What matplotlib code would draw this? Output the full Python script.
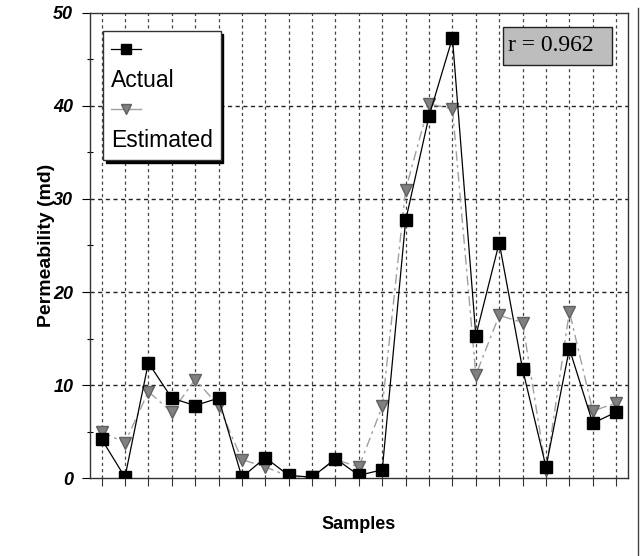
import matplotlib.pyplot as plt
from matplotlib.lines import Line2D
from matplotlib.patches import Rectangle
from matplotlib.ticker import MultipleLocator
import numpy as np

# permeability per sample (md)
samples = np.arange(23)
actual = [4.2, 0.1, 12.4, 8.6, 7.8, 8.6, 0.1, 2.2, 0.3, 0.1, 2.1, 0.3, 0.9,
          27.7, 38.9, 47.3, 15.3, 25.3, 11.7, 1.2, 13.9, 5.9, 7.1]
estimated = [5.0, 3.8, 9.3, 7.1, 10.6, 7.8, 2.0, 1.2, 0.2, 0.1, 2.0, 1.2, 7.7,
             31.0, 40.2, 39.7, 11.1, 17.5, 16.7, 0.9, 17.9, 7.2, 8.1]
y_ticks = [0, 10, 20, 30, 40, 50]
r_text = "r = 0.962"

fig = plt.figure(figsize=(6.42, 5.56), dpi=100)
ax = fig.add_axes([0.140, 0.140, 0.838, 0.837])

#grid first so lines sit on top
ax.set_axisbelow(True)
for x in samples:
    ax.axvline(x, color='#444444', lw=0.9, ls=(0, (2.5, 2.5)), zorder=0)
for y in y_ticks[1:-1]:
    ax.axhline(y, color='#222222', lw=1.0, ls=(0, (3, 2.5)), zorder=0)

ax.plot(samples, estimated, color='#a0a0a0', lw=1.0, ls=(0, (7, 3, 2, 3)),
        marker='v', ms=8, mfc='#808080', mec='#606060', mew=1.0, zorder=2)
ax.plot(samples, actual, color='black', lw=0.9,
        marker='s', ms=8, mfc='black', mec='black', zorder=3)

ax.set_xlim(-0.5, 22.5)
ax.set_ylim(0, 50)
ax.set_xticks(samples)
ax.set_xticklabels([])
ax.tick_params(axis='x', length=6, width=0.8, color='#333333', direction='out')
ax.set_yticks(y_ticks)
ax.set_yticklabels([str(v) for v in y_ticks], fontsize=13, fontweight='bold',
                   fontstyle='italic', family='Liberation Sans')
ax.yaxis.set_minor_locator(MultipleLocator(5))
ax.tick_params(axis='y', which='major', length=6, width=0.8, pad=6)
ax.tick_params(axis='y', which='minor', length=5, width=0.8, direction='inout')
for s in ax.spines.values():
    s.set_linewidth(1.0)
    s.set_color('#333333')

ax.set_ylabel('Permeability (md)', fontsize=14, fontweight='bold',
              family='Liberation Sans', labelpad=-1)
ax.set_xlabel('Samples', fontsize=13, fontweight='bold',
              family='Liberation Sans', labelpad=18)

# legend: marker on one row, label on the row below
h_act = Line2D([], [], color='black', lw=0.9, marker='s', ms=7, mfc='black')
h_est = Line2D([], [], color='#a0a0a0', lw=1.0, marker='v', ms=7,
               mfc='#808080', mec='#606060')
blank = Line2D([], [], color='none')
leg = ax.legend([h_act, blank, h_est, blank], ['', 'Actual', '', 'Estimated'],
                loc='upper left', bbox_to_anchor=(0.024, 0.96), frameon=True,
                fancybox=False, shadow={'color': 'black', 'alpha': 1},
                handlelength=1.3, handletextpad=-1.3, labelspacing=0.3,
                borderpad=0.35, borderaxespad=0,
                prop={'family': 'Liberation Sans', 'size': 16.5})
leg.get_frame().set_edgecolor('#333333')
leg.get_frame().set_linewidth(1.0)

# correlation box
ax.add_patch(Rectangle((0.768, 0.888), 0.202, 0.082, transform=ax.transAxes,
                       fc='#bdbdbd', ec='#222222', lw=1.0, zorder=5))
ax.text(0.778, 0.929, r_text, transform=ax.transAxes, ha='left', va='center',
        fontsize=17, family='Liberation Serif', zorder=6)

# thin frame line along the right edge of the picture
fig.add_artist(Line2D([638 / 642, 638 / 642], [0.0, 0.985],
                      transform=fig.transFigure, color='#444444', lw=1.0))

fig.savefig('out.png', dpi=100)
